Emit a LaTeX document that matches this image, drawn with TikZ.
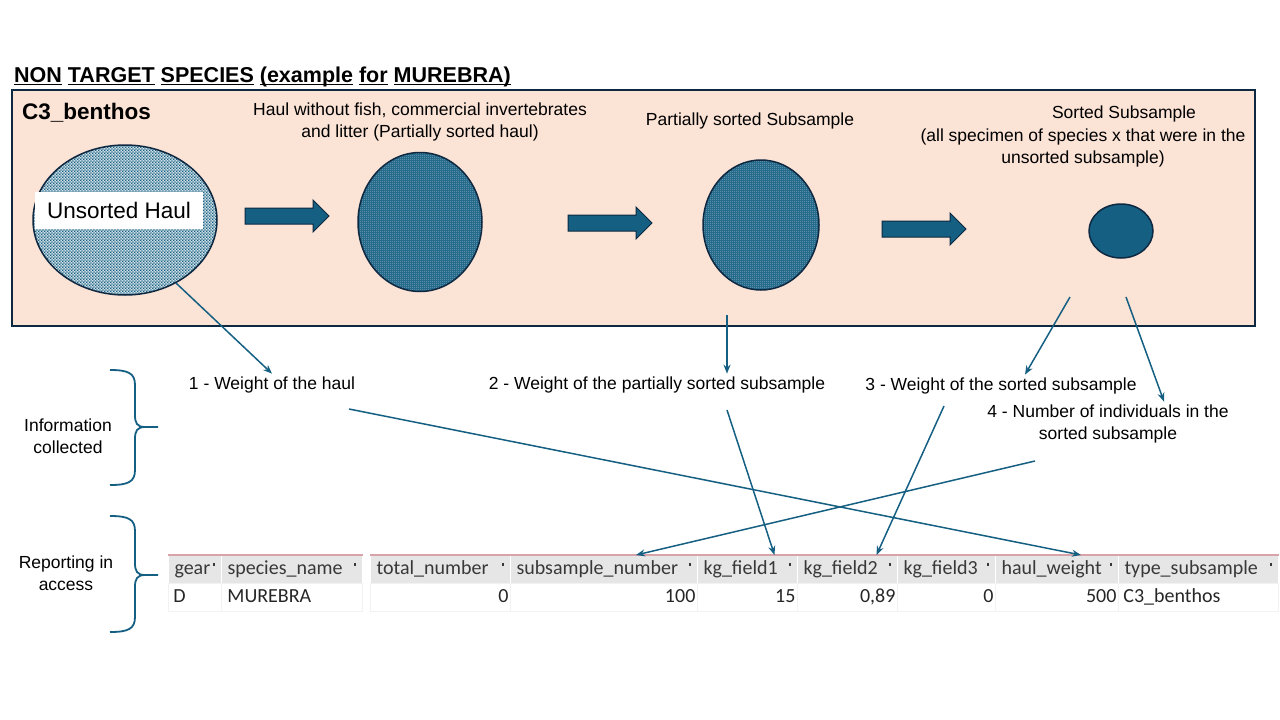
\documentclass[tikz,border=0pt]{standalone}
\usepackage{fontspec}
\setmainfont{Liberation Sans}
\newfontfamily\tablefont{Carlito}
\usetikzlibrary{arrows.meta,positioning,shapes.geometric,patterns,patterns.meta,calc}

\definecolor{flowteal}{HTML}{156082}
\definecolor{boxnavy}{HTML}{0E2841}
\definecolor{peach}{HTML}{FBE3D6}
\definecolor{headgrey}{HTML}{E6E6E6}
\definecolor{headline}{HTML}{D9A3AA}
\definecolor{celltext}{HTML}{383838}

% one underlined word of the title
\newcommand\ulword[1]{\setbox0\hbox{#1}\rlap{\rule[-3pt]{\wd0}{1.3pt}}#1}

% coarse checker for the unsorted haul, fine checker for the sorted parts
\tikzdeclarepattern{
  name=haul dots,
  type=uncolored,
  bottom left={(0pt,0pt)},
  top right={(3.2pt,3.2pt)},
  tile size={(3.2pt,3.2pt)},
  code={
    \fill (0pt,0pt) rectangle (1.6pt,1.6pt);
    \fill (1.6pt,1.6pt) rectangle (3.2pt,3.2pt);
  }
}
\tikzdeclarepattern{
  name=fine dots,
  type=uncolored,
  bottom left={(0pt,0pt)},
  top right={(2pt,2pt)},
  tile size={(2pt,2pt)},
  code={
    \fill (0pt,0pt) rectangle (1pt,1pt);
    \fill (1pt,1pt) rectangle (2pt,2pt);
  }
}

\tikzset{
  txt/.style={font=\fontsize{17.5}{22}\selectfont, align=center, inner sep=3pt},
  link/.style={draw=flowteal, line width=1.5pt, -{Stealth[length=9pt,width=7pt]}},
  blockarrow/.style={fill=flowteal, draw=boxnavy, line width=1pt},
  sample/.style={ellipse, draw=boxnavy, line width=1.5pt, inner sep=0pt},
  bracestyle/.style={draw=flowteal, line width=1.8pt},
  cellfont/.style={font=\tablefont\fontsize{20}{24}\selectfont, text height=14pt, text depth=4pt},
  headcell/.style={cellfont, anchor=north west, fill=headgrey, draw=white, line width=1pt,
    minimum height=28pt, inner ysep=0pt, inner xsep=6pt, text=celltext, align=left},
  datacell/.style={cellfont, anchor=north west, draw=black!5, line width=.8pt,
    minimum height=28pt, inner ysep=0pt, text=black!85}
}

\newcommand\infobrace[3]{% top, middle, bottom
  \draw[bracestyle] (110,#1) .. controls (128,#1) and (135,#1+3) .. (135,#1+15) -- (135,#2-12)
    .. controls (135,#2-4) and (137,#2) .. (145,#2) -- (158,#2);
  \draw[bracestyle] (145,#2) .. controls (137,#2) and (135,#2+4) .. (135,#2+12) -- (135,#3-15)
    .. controls (135,#3-3) and (128,#3) .. (110,#3);
}

\begin{document}
\begin{tikzpicture}[x=1pt, y=-1pt, >=Stealth]
\useasboundingbox (0,0) rectangle (1280,720);

% title and sampling box
\node[anchor=base west, inner sep=0pt, font=\bfseries\fontsize{21.5}{24}\selectfont] (title) at (14,82)
  {\ulword{NON} \ulword{TARGET} \ulword{SPECIES} \ulword{(example} \ulword{for} \ulword{MUREBRA)}};
\draw[fill=peach, draw=boxnavy, line width=2pt] (12,90) rectangle (1255,326);
\node[anchor=base west, inner sep=0pt, font=\bfseries\fontsize{22.5}{24}\selectfont] (gearname) at (22,119) {C3\_benthos};

% samples
\node[sample, minimum width=184pt, minimum height=150pt, preaction={fill=white!80!flowteal},
  pattern=haul dots, pattern color=flowteal] (unsorted) at (125,220) {};
\node[fill=white, minimum width=168pt, minimum height=37pt, inner sep=0pt,
  font=\fontsize{22.5}{26}\selectfont] (unsortedlbl) at (119,210) {Unsorted Haul};
\node[sample, minimum width=124pt, minimum height=139pt, preaction={fill=flowteal},
  pattern=fine dots, pattern color=white!60!flowteal] (partialhaul) at (420,222) {};
\node[sample, minimum width=116pt, minimum height=130pt, preaction={fill=flowteal},
  pattern=fine dots, pattern color=white!60!flowteal] (partialsub) at (761,225) {};
\node[sample, minimum width=64pt, minimum height=54pt, fill=flowteal] (sortedsub) at (1121,231) {};

\foreach \ax/\ay in {245/216, 568/223, 882/229}
  \draw[blockarrow] (\ax,\ay-8) -- ++(68,0) -- ++(0,-8) -- ++(16,16) -- ++(-16,16) -- ++(0,-8) -- ++(-68,0) -- cycle;

\node[txt] (haultxt) at (420,122) {Haul without fish, commercial invertebrates\\and litter (Partially sorted haul)};
\node[txt] (partialtxt) at (750,121) {Partially sorted Subsample};
\node[txt] (sortedtxt) at (1124,114) {Sorted Subsample};
\node[txt] (sortednote) at (1083,148) {(all specimen of species x that were in the\\unsorted subsample)};

% information collected
\node[txt] (w1) at (272,385) {1 - Weight of the haul};
\node[txt] (w2) at (657,385) {2 - Weight of the partially sorted subsample};
\node[txt] (w3) at (1001,386) {3 - Weight of the sorted subsample};
\node[txt] (w4) at (1108,424) {4 - Number of individuals in the\\sorted subsample};

\coordinate (pss) at (727,315);
\coordinate (ssa) at (1070,297);
\coordinate (ssb) at (1126,297);
\draw[link] (unsorted.-51) -- (w1.north);
\draw[link] (pss) -- (pss |- w2.north);
\draw[link] (ssa) -- ([xshift=24pt]w3.north);
\draw[link] (ssb) -- ([xshift=56pt]w4.north);

\node[txt] (infotxt) at (68,436) {Information\\collected};
\node[txt] (reporttxt) at (66,573) {Reporting in\\access};
\infobrace{370}{427}{485}
\infobrace{516}{575}{632}

% access table
\foreach \nm/\lft/\rgt/\lbl in {gear/168/221/gear, spec/221/362/species\_name,
    tot/370/510/total\_number, sub/510/697/subsample\_number, kgone/697/797/kg\_field1,
    kgtwo/797/897/kg\_field2, kgthree/897/995/kg\_field3, haul/995/1118/haul\_weight,
    type/1118/1278/type\_subsample} {
  \pgfmathsetmacro\tw{\rgt-\lft-12}
  \node[headcell, text width=\tw pt] (h\nm) at (\lft,555) {\lbl};
  \fill[celltext] ([xshift=-9pt,yshift=-8pt]h\nm.north east) rectangle ++(2,2.5);
}
\foreach \nm/\lft/\rgt/\al/\pd/\val in {gear/168/221/left/5/D, spec/221/362/left/6/MUREBRA,
    tot/370/510/right/2/0, sub/510/697/right/2/100, kgone/697/797/right/2/15,
    kgtwo/797/897/right/2/{0,89}, kgthree/897/995/right/2/0, haul/995/1118/right/2/500,
    type/1118/1278/left/5/C3\_benthos} {
  \pgfmathsetmacro\tw{\rgt-\lft-2*\pd}
  \node[datacell, text width=\tw pt, inner xsep=\pd pt, align=\al] (d\nm) at (\lft,583) {\val};
}
\draw[headline, line width=1.2pt] (hgear.north west) -- (hspec.north east);
\draw[headline, line width=1.2pt] (htot.north west) -- (htype.north east);

% reporting links
\coordinate (wta) at (349,409);
\coordinate (wtb) at (727,410);
\coordinate (wtc) at (944,406);
\coordinate (wtd) at (1035,461);
\draw[link] (wta) -- ([xshift=24pt]hhaul.north);
\draw[link] (wtd) -- ([xshift=32pt]hsub.north);
\draw[link] (wtb) -- ([xshift=27pt]hkgone.north);
\draw[link] (wtc) -- ([xshift=29pt]hkgtwo.north);
\end{tikzpicture}
\end{document}
